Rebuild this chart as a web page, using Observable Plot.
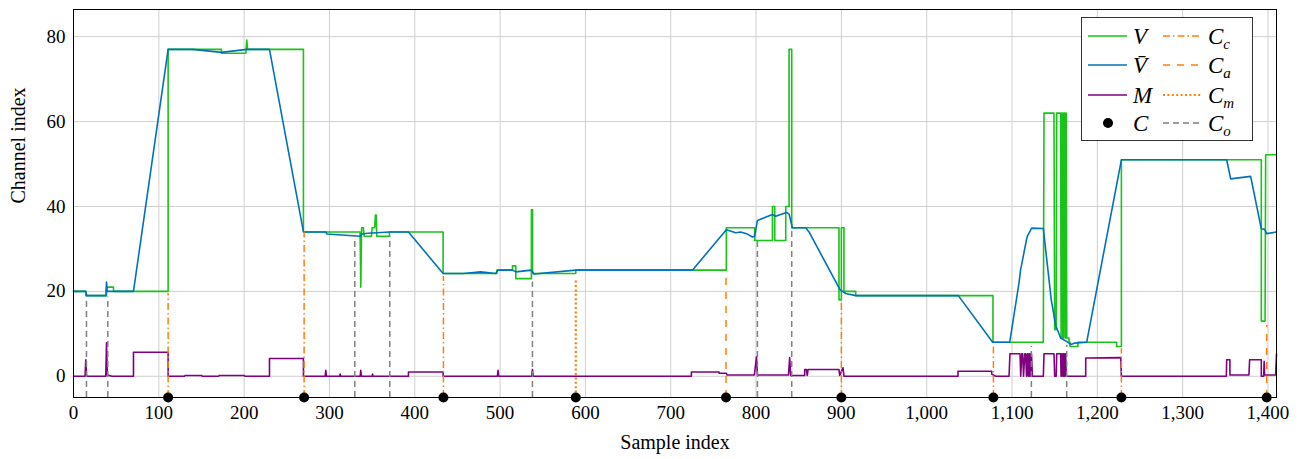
<!DOCTYPE html>
<html>
<head>
<meta charset="utf-8">
<script src="https://cdn.jsdelivr.net/npm/d3@7"></script>
<script src="https://cdn.jsdelivr.net/npm/@observablehq/plot@0.6"></script>
<style>
  html, body { margin: 0; padding: 0; background: white; }
  #wrap { position: relative; width: 1304px; height: 459px; }
  #wrap svg text { font-family: 'Liberation Serif', 'DejaVu Serif', serif; }
  #legend { position: absolute; left: 1081px; top: 17px; }
</style>
</head>
<body>
<div id="wrap"></div>
<script>
// ---------- data ----------
const xTicks = [0,100,200,300,400,500,600,700,800,900,1000,1100,1200,1300,1400];
const yTicks = [0,20,40,60,80];
const xDomain = [0, 1410];
const yDomain = [-5, 86.4];

// V : selected channel (green step line)
const V = [[0,20],[14.4,20],[14.4,19],[38.7,19],[38.7,21],[46.9,21],[46.9,20],[110.9,20],[110.9,77],[173.4,77],[173.4,76.1],[202,76.1],[203.1,79.2],[204,77],[269.5,77],[269.5,34],[335.9,34],[336.7,21],[337.7,35],[339.7,35],[340.6,33],[349.2,33],[350,35],[353,35],[353.9,38],[354.8,38],[355.4,33],[370.3,33],[370.3,34],[433.2,34],[433.2,24.2],[496.1,24.2],[496.1,25],[514.5,25],[514.5,26],[518.4,26],[518.4,23],[536.7,23],[536.7,39.2],[538,39.2],[538,24.2],[588.7,24.2],[588.7,25],[765.2,25],[765.2,35],[798.4,35],[798.4,32],[819.2,32],[819.2,40],[821.9,40],[821.9,32],[834.8,32],[834.8,40],[838.7,40],[838.7,77],[841.8,77],[841.8,35],[897.2,35],[897.2,18],[900,18],[900,35],[903,35],[903,20],[916.8,20],[916.8,19],[1077.7,19],[1077.7,8],[1136.7,8],[1137.5,62],[1149.2,62],[1150,11],[1151.8,11],[1152.4,62],[1157,62],[1157.5,9],[1158.2,62],[1159,62],[1159.5,9],[1160.2,62],[1160.8,9],[1161.5,62],[1162.2,62],[1162.8,9],[1163.5,62],[1164.2,9],[1166.8,9],[1166.8,8],[1168,8],[1168,7],[1177.3,7],[1177.3,8],[1222.7,8],[1222.7,7],[1228.2,7],[1228.2,51],[1392.2,51],[1392.2,13],[1396.6,13],[1397.3,52.2],[1410,52.2]];

// V-bar : smoothed channel (blue)
const Vbar = [[0,20],[14.4,20],[15.5,19],[38,19],[38.7,22.2],[39.5,20],[70.3,20],[110.9,77],[140,77],[173.4,76.3],[203.1,77],[229.7,77],[269.5,34],[295.7,34],[297,33.5],[335.9,33],[338,33.5],[345,33.7],[370.3,34],[392.6,34],[433.2,24.2],[457,24.2],[477.3,24.6],[494.9,24.2],[497.6,25],[514.5,25],[518.4,24.6],[536.7,25],[539.8,24.1],[588.7,25],[725.4,25],[765.2,34.5],[776.2,33.8],[782,34],[789.9,33.5],[795.7,32.8],[798.4,33],[801.6,36.7],[819.2,38.1],[823,37.7],[835.6,38.6],[838.7,38.2],[842.6,35],[858.2,35],[862.1,34],[898.4,20.4],[905.1,19.5],[916.8,19],[1037.1,19],[1077.3,8],[1097.3,8],[1108.2,22],[1110.2,25.3],[1111,26],[1116.8,32],[1118,33],[1119.9,33.7],[1123,34.9],[1136.7,34.8],[1146,18],[1151.2,12],[1157,9],[1164.9,8.1],[1168.8,7.5],[1173,7.8],[1187.5,8],[1228.2,51],[1351.6,51],[1356.3,46.5],[1379.7,47.1],[1392.2,34.75],[1396.1,34.6],[1398.5,33.6],[1410,34]];

// M : metric (purple)
const M = [[0,0],[13.5,0],[14.4,3.9],[15.3,0],[37.8,0],[38.7,7.9],[39.6,0.3],[45,0],[70.3,0],[70.3,5.65],[110.9,5.65],[110.9,0],[130,0],[131,0.2],[150,0.2],[151,0],[170,0],[171,0.2],[200,0.2],[201,0],[229.7,0],[229.7,4.2],[269.5,4.2],[269.5,0],[295,0],[295.7,1.4],[296.5,0],[312,0],[312.5,0.5],[313,0],[336,0],[336.7,1.4],[337.5,0],[350,0],[350.5,0.5],[351,0],[392.6,0],[392.6,1.0],[433.2,1.0],[433.2,0],[496.8,0],[497.6,1.4],[498.4,0],[537,0],[537.9,1.6],[538.8,0],[724.2,0],[724.2,1],[756.6,1],[756.6,0.7],[765.2,0.7],[766,0.3],[798,0.3],[800.5,4.6],[801.6,0.3],[838,0.3],[839.4,4.4],[840.6,0.2],[857,0.2],[857,1.6],[859,1.6],[860,0.2],[861,1.6],[897.2,1.6],[898,0.2],[901.9,2],[903,0],[1036.7,0],[1036.7,1.2],[1076.2,1.2],[1076.2,0.5],[1080.9,0],[1096.5,0],[1097.6,5.3],[1109.4,5.3],[1110.2,0],[1111.5,5.3],[1112.5,5.3],[1113.5,0],[1115,5.3],[1116,5.3],[1117,0],[1118,5.3],[1119,0],[1119.8,5.3],[1120.5,0],[1121.3,5.3],[1122,0],[1122.8,5.3],[1123.9,0],[1136.7,0],[1137.5,5.3],[1149.2,5.3],[1150,0],[1151.8,0],[1152.4,5.3],[1157,5.3],[1157.5,0],[1158.2,5.3],[1159,0],[1159.8,5.3],[1160.5,0],[1161.2,5.3],[1162,0],[1162.8,5.3],[1163.6,0],[1186.4,0],[1186.4,4.3],[1227.4,4.4],[1228.2,0],[1351.2,0],[1351.6,3.9],[1355.4,3.9],[1355.4,0.3],[1377.7,0.3],[1378.5,3.9],[1392.2,3.9],[1392.2,0],[1395,0],[1395.5,3.5],[1396.1,0.3],[1409,0.3],[1410,5.3]];

// C : change points (black dots on the x axis)
const C = [110.9, 270.3, 433.6, 588.7, 764.8, 900, 1078.2, 1228.2, 1398.5];
// vertical marker lines: [x, top]
const Cc = [[110.9,19.5],[270.3,34],[433.6,23.5],[900,17.9],[1078.2,7],[1228.2,6.5]];
const Ca = [[764.8,24],[1398.5,12]];
const Cm = [[588.7,23]];
const Co = [[15.2,18.7],[40.2,18.7],[329.7,32.8],[370.7,33],[537.9,22.2],[801.6,32],[841.8,34.7],[1122.7,7],[1164.1,7.3]];

// ---------- styles ----------
const GREEN = "#17c417", BLUE = "#0072bd", PURPLE = "#800080", ORANGE = "#ff7f0e", GRAY = "#808080";
const FONT = "'Liberation Serif', 'DejaVu Serif', serif";
const base = yDomain[0];

const rules = (data, stroke, dash, w = 1.5) => Plot.ruleX(data, {
  x: d => d[0], y1: () => base, y2: d => d[1], stroke, strokeWidth: w, strokeDasharray: dash
});

const chart = Plot.plot({
  width: 1304, height: 459,
  marginLeft: 73, marginRight: 28, marginTop: 9, marginBottom: 62,
  style: { fontFamily: FONT, fontSize: "19px", background: "white", color: "black" },
  x: { domain: xDomain },
  y: { domain: yDomain },
  marks: [
    Plot.gridX(xTicks, { stroke: "#cfcfcf", strokeOpacity: 1, strokeWidth: 1 }),
    Plot.gridY(yTicks, { stroke: "#cfcfcf", strokeOpacity: 1, strokeWidth: 1 }),
    Plot.line(V, { stroke: GREEN, strokeWidth: 1.6 }),
    Plot.line(Vbar, { stroke: BLUE, strokeWidth: 1.6 }),
    Plot.line(M, { stroke: PURPLE, strokeWidth: 1.6 }),
    rules(Cc, ORANGE, "7,3,1.5,3"),
    rules(Ca, ORANGE, "7,7"),
    rules(Cm, ORANGE, "2,2.4", 2.2),
    rules(Co, GRAY, "6,4"),
    Plot.dot(C, { x: d => d, y: () => base, r: 5, fill: "black", stroke: "none" }),
    Plot.frame({ stroke: "black", strokeWidth: 1 }),
    Plot.axisX(xTicks, { tickSize: 0, tickPadding: 8, tickFormat: d3.format(","), label: null, fontSize: 19, fontFamily: FONT }),
    Plot.axisY(yTicks, { tickSize: 0, tickPadding: 8, label: null, fontSize: 19, fontFamily: FONT }),
    Plot.text(["Sample index"], { frameAnchor: "bottom", dy: 51, fontSize: 20, fontFamily: FONT }),
    Plot.text(["Channel index"], { frameAnchor: "left", dx: -55, rotate: -90, fontSize: 20, fontFamily: FONT })
  ]
});

const wrap = document.getElementById("wrap");
wrap.appendChild(chart);

// ---------- legend ----------
const legendItems = [
  { col: 0, row: 0, kind: "line", stroke: GREEN, dash: null, w: 1.6, label: ["V", null] },
  { col: 0, row: 1, kind: "line", stroke: BLUE, dash: null, w: 1.6, label: ["V\u0304", null] },
  { col: 0, row: 2, kind: "line", stroke: PURPLE, dash: null, w: 1.6, label: ["M", null] },
  { col: 0, row: 3, kind: "dot", stroke: "black", dash: null, w: 1.6, label: ["C", null] },
  { col: 1, row: 0, kind: "line", stroke: ORANGE, dash: "7,3,1.5,3", w: 1.6, label: ["C", "c"] },
  { col: 1, row: 1, kind: "line", stroke: ORANGE, dash: "7,7", w: 1.6, label: ["C", "a"] },
  { col: 1, row: 2, kind: "line", stroke: ORANGE, dash: "2,2.4", w: 2.2, label: ["C", "m"] },
  { col: 1, row: 3, kind: "line", stroke: GRAY, dash: "6,4", w: 1.6, label: ["C", "o"] }
];
const LW = 171, LH = 123;
const rowY = [19, 48, 78, 106];
const colX = [7, 82];
const lg = d3.create("svg").attr("id", "legend").attr("width", LW + 1).attr("height", LH + 1)
  .style("font-family", FONT);
lg.append("rect").attr("x", 0.5).attr("y", 0.5).attr("width", LW).attr("height", LH)
  .attr("fill", "white").attr("stroke", "#333").attr("stroke-width", 1);
for (const it of legendItems) {
  const x0 = colX[it.col], y0 = rowY[it.row];
  if (it.kind === "line") {
    lg.append("line").attr("x1", x0).attr("x2", x0 + 39).attr("y1", y0).attr("y2", y0)
      .attr("stroke", it.stroke).attr("stroke-width", it.w)
      .attr("stroke-dasharray", it.dash);
  } else {
    lg.append("circle").attr("cx", x0 + 20).attr("cy", y0).attr("r", 5).attr("fill", "black");
  }
  const t = lg.append("text").attr("x", x0 + 45).attr("y", y0 + 8)
    .attr("font-size", 23).attr("font-style", "italic").attr("fill", "black");
  t.append("tspan").text(it.label[0]);
  if (it.label[1]) {
    t.append("tspan").attr("font-size", 15).attr("dy", 5).text(it.label[1]);
  }
}
wrap.appendChild(lg.node());
</script>
</body>
</html>
